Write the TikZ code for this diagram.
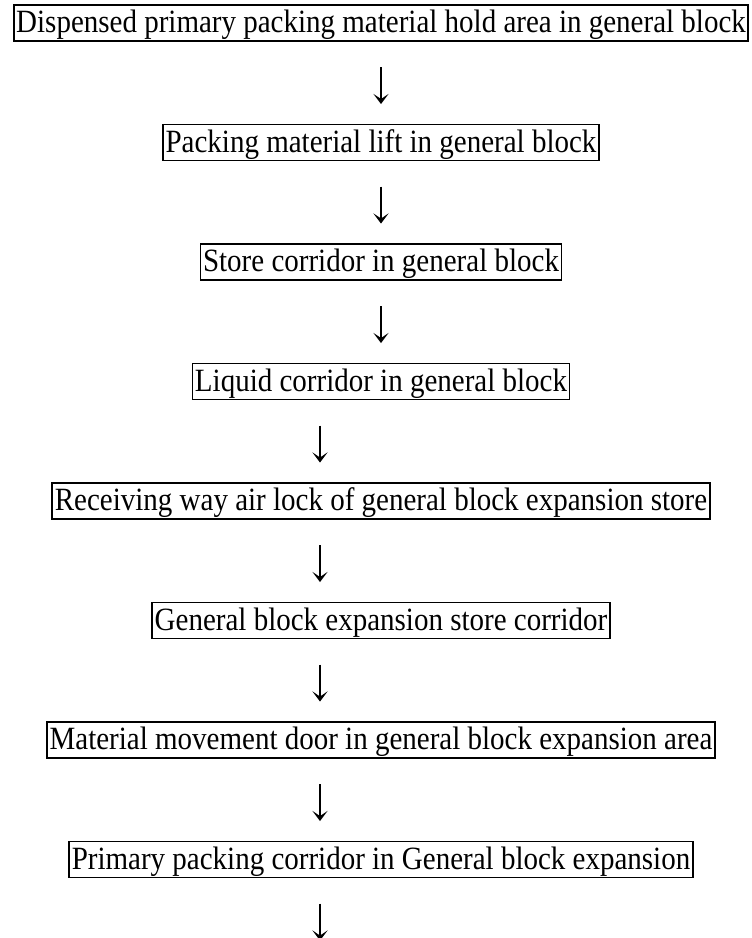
\documentclass[tikz,border=0pt]{standalone}
\usepackage{fontspec}
\setmainfont{Liberation Serif}
\usetikzlibrary{arrows.meta}

% box labels are set a little taller than the font's natural shape
\newcommand\stretchtxt[1]{\scalebox{1}[1.12]{#1}}

\tikzset{
  stepbox/.style={draw=black, line width=1.8pt, inner xsep=2.5pt, inner ysep=4.5pt,
    text height=23pt, text depth=4pt,
    font=\fontsize{29pt}{34pt}\selectfont},
  flow/.style={line width=1.3pt, -{Stealth[length=10pt,width=15pt,inset=5pt]}}
}

\begin{document}
\begin{tikzpicture}[x=1pt,y=-1pt]
  \useasboundingbox (0,0) rectangle (752,938);

  % process steps, one column
  \node[stepbox] (s1) at (381,23)    {\stretchtxt{Dispensed primary packing material hold area in general block}};
  \node[stepbox] (s2) at (381,142.5) {\stretchtxt{Packing material lift in general block}};
  \node[stepbox] (s3) at (381,262)   {\stretchtxt{Store corridor in general block}};
  \node[stepbox] (s4) at (381,381.5) {\stretchtxt{Liquid corridor in general block}};
  \node[stepbox] (s5) at (381,501)   {\stretchtxt{Receiving way air lock of general block expansion store}};
  \node[stepbox] (s6) at (381,620.5) {\stretchtxt{General block expansion store corridor}};
  \node[stepbox] (s7) at (381,740)   {\stretchtxt{Material movement door in general block expansion area}};
  \node[stepbox] (s8) at (381,859.5) {\stretchtxt{Primary packing corridor in General block expansion}};

  % arrow end points between the steps
  \coordinate (a1s) at (381,67);    \coordinate (a1e) at (381,104);
  \coordinate (a2s) at (381,186.5); \coordinate (a2e) at (381,223.5);
  \coordinate (a3s) at (381,306);   \coordinate (a3e) at (381,343);
  \coordinate (a4s) at (320,425.5); \coordinate (a4e) at (320,462.5);
  \coordinate (a5s) at (320,545);   \coordinate (a5e) at (320,582);
  \coordinate (a6s) at (320,664.5); \coordinate (a6e) at (320,701.5);
  \coordinate (a7s) at (320,784);   \coordinate (a7e) at (320,821);
  \coordinate (a8s) at (320,903.5); \coordinate (a8e) at (320,940.5);

  \draw[flow] (a1s) -- (a1e);
  \draw[flow] (a2s) -- (a2e);
  \draw[flow] (a3s) -- (a3e);
  \draw[flow] (a4s) -- (a4e);
  \draw[flow] (a5s) -- (a5e);
  \draw[flow] (a6s) -- (a6e);
  \draw[flow] (a7s) -- (a7e);
  \draw[flow] (a8s) -- (a8e);
\end{tikzpicture}
\end{document}
